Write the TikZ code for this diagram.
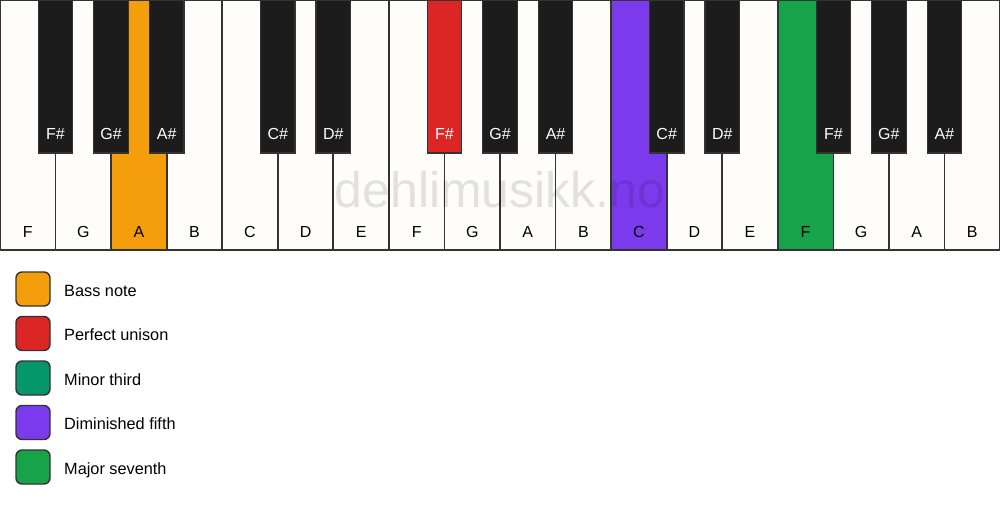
\documentclass[tikz,border=0pt]{standalone}
\usepackage{fontspec}
\setmainfont{Liberation Sans}
\definecolor{keyline}{HTML}{333333}
\definecolor{ivory}{HTML}{FFFDF9}
\definecolor{ebony}{HTML}{1C1C1C}
\definecolor{cbass}{HTML}{F59E0B}
\definecolor{cunison}{HTML}{DC2626}
\definecolor{cminor}{HTML}{059669}
\definecolor{cdim}{HTML}{7C3AED}
\definecolor{cmaj}{HTML}{16A34A}
\tikzset{
  whitekey/.style={draw=keyline, line width=1.7pt, fill=ivory, inner sep=0pt, outer sep=0pt,
    minimum width=55.556pt, minimum height=250pt, anchor=north west},
  blackkey/.style={draw=keyline, line width=1.2pt, fill=ebony, inner sep=0pt, outer sep=0pt,
    minimum width=34.5pt, minimum height=153pt, anchor=north},
  wlabel/.style={font=\fontsize{16}{19}\selectfont, text=black, anchor=base, inner sep=0pt},
  blabel/.style={font=\fontsize{16}{19}\selectfont, text=white, anchor=base, inner sep=0pt},
  swatch/.style={draw=keyline, line width=1.4pt, rounded corners=6pt, minimum width=34pt,
    minimum height=34pt, inner sep=0pt},
  legtext/.style={font=\fontsize{16.3}{19}\selectfont, text=black, anchor=base west, inner sep=0pt},
  watermark/.style={font=\fontsize{50}{60}\selectfont, text=black, opacity=0.11, anchor=base, inner sep=0pt}
}
\begin{document}
\begin{tikzpicture}[x=1pt,y=-1pt]
\useasboundingbox (0,0) rectangle (1000,506);
\fill[white] (0,0) rectangle (1000,506);
% white keys
\foreach \i/\n/\c in {0/F/ivory,1/G/ivory,2/A/cbass,3/B/ivory,4/C/ivory,5/D/ivory,6/E/ivory,
  7/F/ivory,8/G/ivory,9/A/ivory,10/B/ivory,11/C/cdim,12/D/ivory,13/E/ivory,
  14/F/cmaj,15/G/ivory,16/A/ivory,17/B/ivory}{
  \node[whitekey, fill=\c] (w\i) at (\i*55.556,0) {};
  \node[wlabel] (lw\i) at (\i*55.556+27.778,237) {\n};
}
% black keys
\foreach \i/\n/\c in {1/F/ebony,2/G/ebony,3/A/ebony,5/C/ebony,6/D/ebony,
  8/F/cunison,9/G/ebony,10/A/ebony,12/C/ebony,13/D/ebony,
  15/F/ebony,16/G/ebony,17/A/ebony}{
  \node[blackkey, fill=\c] (b\i) at (\i*55.556,0) {};
  \node[blabel] (lb\i) at (\i*55.556,139) {\n\#};
}
% watermark
\node[watermark] (wm) at (500,207) {dehlimusikk.no};
% legend
\foreach \k/\c/\t in {0/cbass/Bass note,1/cunison/Perfect unison,2/cminor/Minor third,
  3/cdim/Diminished fifth,4/cmaj/Major seventh}{
  \node[swatch, fill=\c] (s\k) at (33,289+\k*44.5) {};
  \node[legtext] (t\k) at (64,296+\k*44.5) {\t};
}
\end{tikzpicture}
\end{document}
